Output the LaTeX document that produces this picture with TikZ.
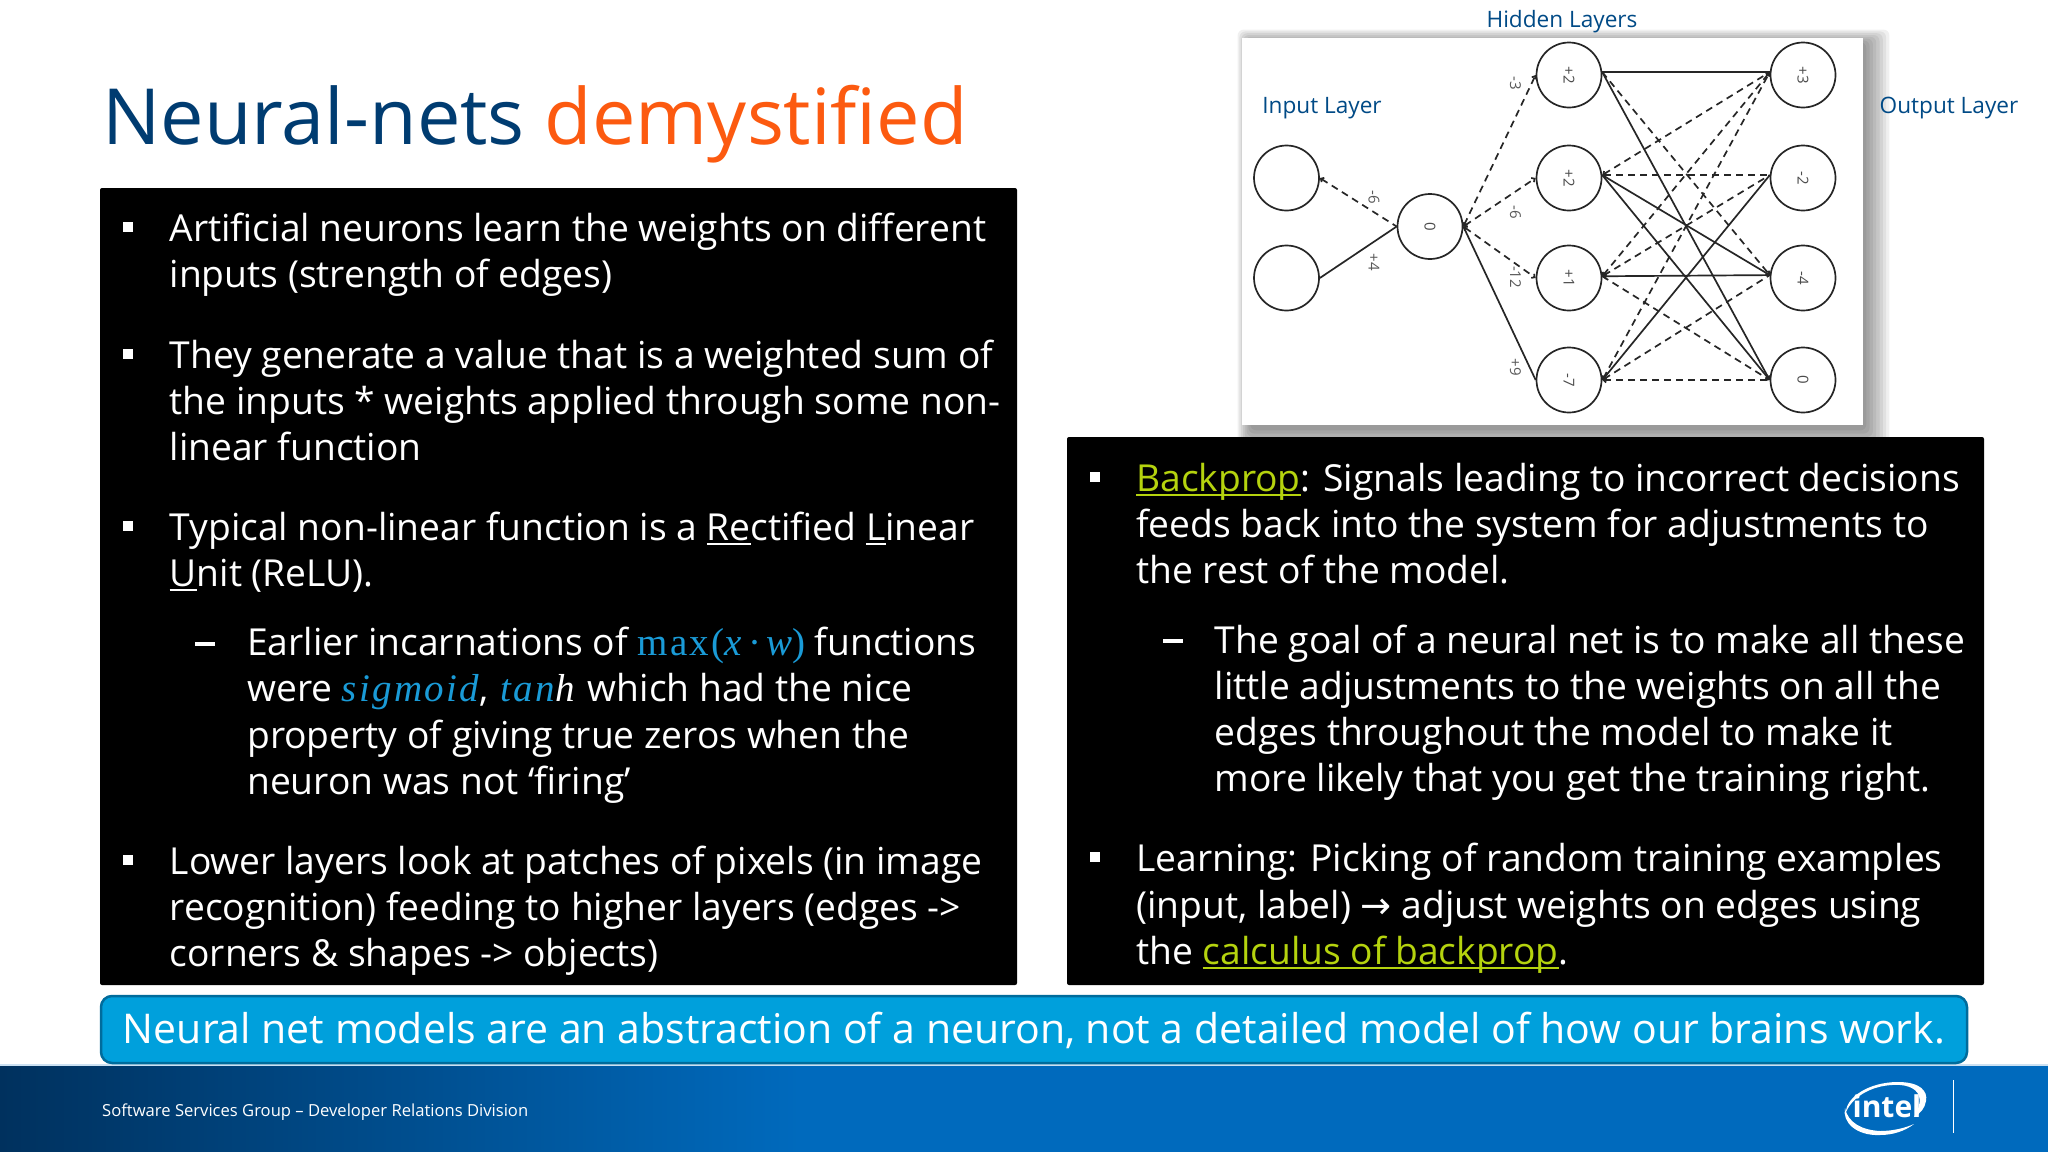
\documentclass[tikz,border=0pt]{standalone}
\usepackage{fontspec}
\setmainfont{Open Sans}
\newfontfamily\mathf[LetterSpace=6]{Liberation Serif}
\newfontfamily\arrf{DejaVu Sans}
\usetikzlibrary{arrows.meta,calc}
\definecolor{navy}{HTML}{004A86}
\definecolor{titlenavy}{HTML}{003C71}
\definecolor{orng}{HTML}{FC5A10}
\definecolor{lime}{HTML}{B5D30E}
\definecolor{mathblue}{HTML}{1A9BD7}
\definecolor{calloutfill}{HTML}{00A0DC}
\definecolor{calloutedge}{HTML}{006C9C}
\definecolor{footdark}{HTML}{00315E}
\definecolor{footblue}{HTML}{006ABD}
\newcommand\myul[1]{\leavevmode\setbox0=\hbox{#1}\rlap{\rule[-5pt]{\wd0}{2.2pt}}\box0}
\newcommand\mth[1]{{\mathf\fontsize{39}{46}\selectfont\color{mathblue}#1}}
\newcommand\mthi[1]{{\mathf\itshape\fontsize{39}{46}\selectfont\color{mathblue}#1}}
\tikzset{
  body/.style={anchor=base west,inner sep=0pt,text=white,yshift=-1pt,font=\fontsize{37.2}{46}\selectfont},
  bsq/.style={fill=white,draw=none,minimum size=10pt,inner sep=0pt},
  bdash/.style={fill=white,draw=none,minimum width=20pt,minimum height=3.2pt,inner sep=0pt},
  neuron/.style={circle,draw=black!85,line width=1.7pt,minimum size=65pt,inner sep=0pt,fill=white,font=\fontsize{15}{15}\selectfont,text=black!70},
  wire/.style={draw=black!85,line width=1.7pt,>={Straight Barb[length=2.5pt,width=5pt]}},
  dwire/.style={wire,dash pattern=on 7pt off 5pt},
  wlabel/.style={rotate=-90,inner sep=0pt,text=black!65,font=\fontsize{15}{15}\selectfont},
  layerlabel/.style={inner sep=0pt,text=navy,font=\fontsize{22.6}{24}\selectfont},
  panel/.style={fill=black,draw=none,rounded corners=2pt}
}
\begin{document}
\begin{tikzpicture}[x=1pt,y=-1pt]
\useasboundingbox (0,0) rectangle (2048,1151.6);
\fill[white] (0,0) rectangle (2048,1152);
% footer
\fill[white!80!footblue] (0,1064) rectangle (2048,1066);
\shade[left color=footdark,right color=footblue,shading angle=90] (0,1066) rectangle (800,1153);
\fill[footblue] (799.5,1066) rectangle (2048,1153);
% image shadow
\foreach \s in {24,21,18,15,12,9,6,3}{
  \fill[black,opacity=0.06,rounded corners=6pt] (1252-\s*0.6,44-\s*0.6) rectangle (1863+\s*1.1,427+\s*1.1);
}
\fill[white] (1242,38) rectangle (1863,425);
% neurons
\node[neuron] (i1) at (1286.5,178) {};
\node[neuron] (i2) at (1286.5,278) {};
\node[neuron] (m) at (1430,226.5) {\rotatebox{-90}{0}};
\node[neuron] (h1) at (1569,75) {\rotatebox{-90}{+2}};
\node[neuron] (h2) at (1569,178) {\rotatebox{-90}{+2}};
\node[neuron] (h3) at (1569,278) {\rotatebox{-90}{+1}};
\node[neuron] (h4) at (1569,380) {\rotatebox{-90}{-7}};
\node[neuron] (o1) at (1803,75) {\rotatebox{-90}{+3}};
\node[neuron] (o2) at (1803,178) {\rotatebox{-90}{-2}};
\node[neuron] (o3) at (1803,278) {\rotatebox{-90}{-4}};
\node[neuron] (o4) at (1803,380) {\rotatebox{-90}{0}};
% input to middle
\draw[dwire,<-] (i1.east) -- (m.west);
\draw[wire] (i2.east) -- (m.west);
\draw[dwire,<->] (m.east) -- (h1.west);
\draw[dwire,<->] (m.east) -- (h2.west);
\draw[dwire,<->] (m.east) -- (h3.west);
\draw[wire] (m.east) -- (h4.west);
% hidden to output
\draw[wire] (h1.5) -- (o1.175);
\draw[dwire,->] (h1.5) -- (o3.175);
\draw[wire,->] (h1.5) -- (o4.west);
\draw[dwire,<->] (h2.5) -- (o1.175);
\draw[dwire,<-] (h2.5) -- (o2.175);
\draw[wire,->] (h2.5) -- (o3.175);
\draw[wire,->] (h2.5) -- (o4.west);
\draw[dwire,<->] (h3.3) -- (o1.175);
\draw[dwire,<-] (h3.3) -- (o2.175);
\draw[wire,<-] (h3.3) -- (o3.175);
\draw[dwire,->] (h3.3) -- (o4.west);
\draw[dwire,<->] (h4.east) -- (o1.175);
\draw[wire,<-] (h4.east) -- (o2.175);
\draw[dwire,<-] (h4.east) -- (o3.175);
\draw[dwire,<-] (h4.east) -- (o4.west);
% weights
\node[wlabel] (w1) at (1374,197) {-6};
\node[wlabel] (w2) at (1374,262) {+4};
\node[wlabel] (w3) at (1515.5,83) {-3};
\node[wlabel] (w4) at (1515.5,212) {-6};
\node[wlabel] (w5) at (1515.5,277) {-12};
\node[wlabel] (w6) at (1515.5,367) {+9};
% layer labels
\node[layerlabel] (lh) at (1562,21.5) {Hidden Layers};
\node[layerlabel] (li) at (1322,108) {Input Layer};
\node[layerlabel] (lo) at (1949,108) {Output Layer};
% title
\node[anchor=base west,inner sep=0pt,font=\fontsize{77.5}{80}\selectfont] (title) at (102,144) {\textcolor{titlenavy}{Neural-nets} \textcolor{orng}{demystified}};
% panels
\fill[panel] (100,188) rectangle (1017,985);
\fill[panel] (1067,437) rectangle (1984,985);
% left text
\node[bsq] (lb1) at (128,227) {};
\node[body] (l1) at (169.5,240) {Artificial neurons learn the weights on different};
\node[body] (l2) at (169.5,286) {inputs (strength of edges)};
\node[bsq] (lb2) at (128,354) {};
\node[body] (l3) at (169.5,367) {They generate a value that is a weighted sum of};
\node[body] (l4) at (169.5,413) {the inputs * weights applied through some non-};
\node[body] (l5) at (169.5,459) {linear function};
\node[bsq] (lb3) at (128,526) {};
\node[body] (l6) at (169.5,539) {Typical non-linear function is a \myul{Re}ctified \myul{L}inear};
\node[body] (l7) at (169.5,585) {\myul{U}nit (ReLU).};
\node[bdash] (ld1) at (205,644) {};
\node[body] (l8) at (247,654) {Earlier incarnations of \mth{max(}\mthi{x}\mth{\hspace{6pt}·\hspace{5pt}}\mthi{w}\mth{)} functions};
\node[body] (l9) at (247,700) {were \mthi{sigmoid}, \hspace{2pt}\mthi{tan}{\mathf\itshape\fontsize{39}{46}\selectfont\hspace{1pt}h}\hspace{3pt} which had the nice};
\node[body] (l10) at (247,747) {property of giving true zeros when the};
\node[body] (l11) at (247,793) {neuron was not ‘firing’};
\node[bsq] (lb4) at (128,860) {};
\node[body] (l12) at (169.5,873.5) {Lower layers look at patches of pixels (in image};
\node[body] (l13) at (169.5,919.5) {recognition) feeding to higher layers (edges ->};
\node[body] (l14) at (169.5,965) {corners \& shapes -> objects)};
% right text
\node[bsq] (rb1) at (1095,477) {};
\node[body] (r1) at (1136,490) {\textcolor{lime}{\myul{Backprop}}: Signals leading to incorrect decisions};
\node[body] (r2) at (1136,536) {feeds back into the system for adjustments to};
\node[body] (r3) at (1136,582) {the rest of the model.};
\node[bdash] (rd1) at (1173,641) {};
\node[body] (r4) at (1214.5,652) {The goal of a neural net is to make all these};
\node[body] (r5) at (1214.5,698) {little adjustments to the weights on all the};
\node[body] (r6) at (1214.5,744) {edges throughout the model to make it};
\node[body] (r7) at (1214.5,790) {more likely that you get the training right.};
\node[bsq] (rb2) at (1095,857) {};
\node[body] (r8) at (1136,870) {Learning: Picking of random training examples};
\node[body] (r9) at (1136,917) {(input, label) {\arrf\fontsize{37}{46}\selectfont →} adjust weights on edges using};
\node[body] (r10) at (1136,963) {the \textcolor{lime}{\myul{calculus of backprop}}.};
% callout
\draw[fill=calloutfill,draw=calloutedge,line width=2.5pt,rounded corners=11pt] (101,996) rectangle (1967,1063);
\node[anchor=base,inner sep=0pt,text=white,font=\fontsize{41}{46}\selectfont] (call) at (1034,1043.5) {Neural net models are an abstraction of a neuron, not a detailed model of how our brains work.};
% footer text and logo
\node[anchor=base west,inner sep=0pt,text=white,font=\fontsize{16.6}{20}\selectfont] (foot) at (102,1116.5) {Software Services Group – Developer Relations Division};
\node[anchor=base,inner sep=0pt,text=white,font=\fontsize{30}{30}\selectfont] (logo) at (1887,1117) {\textbf{intel}};
\fill[white] (1846,1112) .. controls (1846,1098) and (1868,1082) .. (1898,1082) .. controls (1920,1082) and (1928,1091) .. (1926,1101) .. controls (1925,1108) and (1920,1114) .. (1914,1117) .. controls (1918,1110) and (1921,1104) .. (1919,1096) .. controls (1916,1087) and (1904,1084) .. (1892,1085) .. controls (1872,1086) and (1853,1096) .. (1846,1112) -- cycle;
\fill[white] (1845,1108) .. controls (1842,1122) and (1856,1136) .. (1880,1135) .. controls (1893,1135) and (1905,1131) .. (1914,1124) .. controls (1905,1128) and (1893,1131) .. (1880,1131) .. controls (1862,1130) and (1848,1123) .. (1845,1108) -- cycle;
\draw[white,line width=1pt] (1953,1080) -- (1953,1133);
\end{tikzpicture}
\end{document}
